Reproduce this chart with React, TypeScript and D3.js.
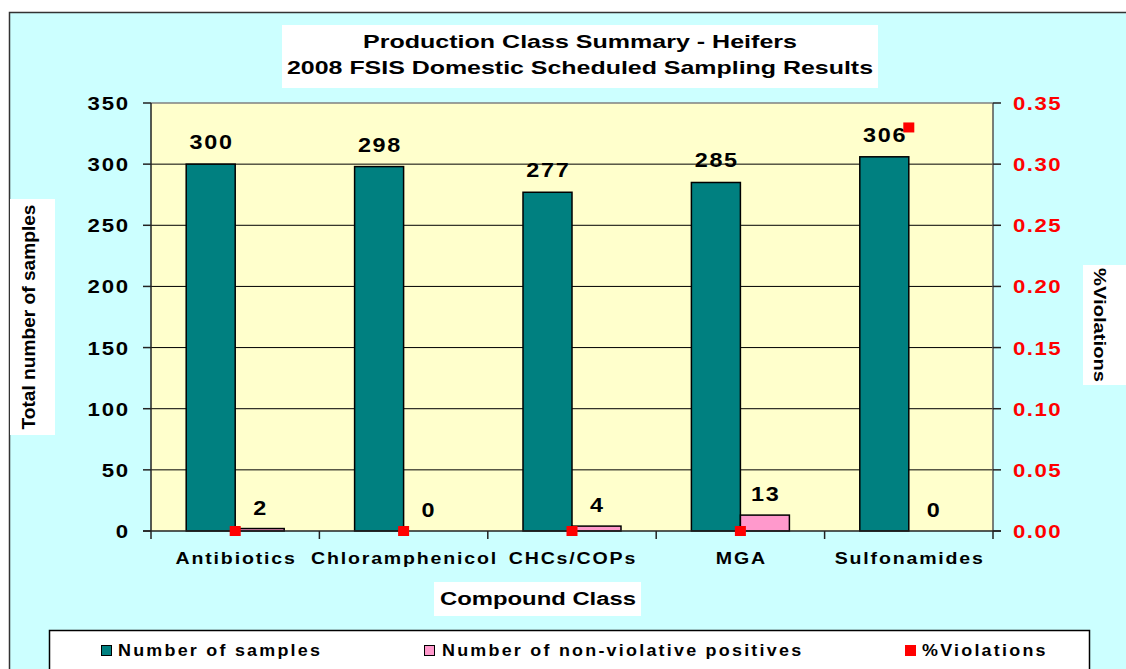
import * as d3 from "d3";

const categories = ["Antibiotics", "Chloramphenicol", "CHCs/COPs", "MGA", "Sulfonamides"];
const samples = [300, 298, 277, 285, 306];
const positives = [2, 0, 4, 13, 0];
const violations = [0, 0, 0, 0, 0.33];
const leftTicks = [0, 50, 100, 150, 200, 250, 300, 350];
const rightTicks = [0, 0.05, 0.1, 0.15, 0.2, 0.25, 0.3, 0.35];
const seriesNames = ["Number of samples", "Number of non-violative positives", "%Violations"];

const FONT = "'Liberation Sans', Arial, sans-serif";
const TEAL = "#008080";
const PINK = "#FF99CC";
const RED = "#FF0000";

function T({ x, y, size = 18, anchor = "middle", fill = "#000", ls = 0, sx = 1, len, rotate = 0, children }: any) {
  // letter-spacing adds a trailing gap, pull it back for centred text
  const dx = len ? 0 : anchor === "middle" ? (ls * sx) / 2 : anchor === "end" ? ls * sx : 0;
  return (
    <text
      transform={`translate(${x + dx},${y}) rotate(${rotate}) scale(${sx},1)`}
      textAnchor={anchor}
      fontSize={size}
      fontWeight="bold"
      fontFamily={FONT}
      fill={fill}
      letterSpacing={len ? undefined : ls}
      textLength={len}
      lengthAdjust={len ? "spacingAndGlyphs" : undefined}
    >
      {children}
    </text>
  );
}

export default function App() {
  const width = 1126;
  const height = 669;
  const left = 151, right = 993, top = 103, bottom = 531;

  const x = d3.scaleBand().domain(categories).range([left, right]).padding(0);
  const bw = x.bandwidth();
  const x1 = d3.scaleBand().domain(["samples", "positives"]).range([bw / 2 - 49, bw / 2 + 49]);
  const y = d3.scaleLinear().domain([0, 350]).range([bottom, top]);
  const y2 = d3.scaleLinear().domain([0, 0.35]).range([bottom, top]);
  const fmt = d3.format(".2f");
  const boundaries = d3.range(categories.length + 1).map((i) => left + i * bw);

  return (
    <svg width={width} height={height} style={{ position: "absolute", left: 0, top: 0, background: "#fff" }}>
      <rect x={9.5} y={12.5} width={1130} height={670} fill="#CCFFFF" stroke="#333" strokeWidth={1.5} />

      {/* title */}
      <rect x={282} y={25} width={596} height={63} fill="#fff" />
      <T x={580} y={48} size={19} len={434}>Production Class Summary - Heifers</T>
      <T x={580} y={74} size={19} len={586}>2008 FSIS Domestic Scheduled Sampling Results</T>

      {/* plot area */}
      <rect x={left} y={top} width={right - left} height={bottom - top} fill="#FFFFCC" />
      {leftTicks.slice(1, -1).map((t) => (
        <line key={t} x1={left} x2={right} y1={y(t)} y2={y(t)} stroke="#000" strokeWidth={1} />
      ))}
      <line x1={left} x2={right} y1={top} y2={top} stroke="#808080" strokeWidth={1.5} />
      <line x1={right} x2={right} y1={top} y2={bottom} stroke="#555" strokeWidth={1.5} />

      {/* bars */}
      {categories.map((c, i) => {
        const bx = x(c)!;
        const sTop = y(samples[i]);
        const pTop = y(positives[i]);
        const sx = bx + x1("samples")!;
        const px = bx + x1("positives")!;
        return (
          <g key={c}>
            <rect x={sx} y={sTop} width={x1.bandwidth()} height={bottom - sTop} fill={TEAL} stroke="#000" strokeWidth={1.5} />
            {positives[i] > 0 && (
              <rect x={px} y={pTop} width={x1.bandwidth()} height={bottom - pTop} fill={PINK} stroke="#000" strokeWidth={1.5} />
            )}
            <T x={sx + x1.bandwidth() / 2} y={sTop - 15} size={19.5} sx={1.2} ls={1.4}>{samples[i]}</T>
            <T x={px + x1.bandwidth() / 2} y={pTop - 14} size={19.5} sx={1.2} ls={1.4}>{positives[i]}</T>
          </g>
        );
      })}

      {/* left axis */}
      <line x1={left} x2={left} y1={top} y2={bottom} stroke="#222" strokeWidth={1.5} />
      {leftTicks.map((t) => (
        <g key={t}>
          <line x1={left - 8} x2={left} y1={y(t)} y2={y(t)} stroke="#222" strokeWidth={1.5} />
          <T x={128} y={y(t) + 7} size={18.5} sx={1.2} ls={1.4} anchor="end">{t}</T>
        </g>
      ))}

      {/* right axis */}
      {rightTicks.map((t) => (
        <g key={t}>
          <line x1={right} x2={right + 8} y1={y2(t)} y2={y2(t)} stroke="#222" strokeWidth={1.5} />
          <T x={1013} y={y2(t) + 7} size={18.5} sx={1.2} ls={1.2} anchor="start" fill={RED}>{fmt(t)}</T>
        </g>
      ))}

      {/* x axis */}
      <line x1={left - 8} x2={right + 8} y1={bottom} y2={bottom} stroke="#222" strokeWidth={1.5} />
      {boundaries.map((b, i) => (
        <line key={i} x1={b} x2={b} y1={bottom} y2={bottom + 8} stroke="#222" strokeWidth={1.5} />
      ))}
      {categories.map((c) => (
        <T key={c} x={x(c)! + bw / 2} y={564} size={17} sx={1.15} ls={1.6}>{c}</T>
      ))}

      {/* %Violations markers */}
      {categories.map((c, i) => (
        <rect key={c} x={x(c)! + bw / 2 - 5.5} y={y2(violations[i]) - 5} width={11} height={10} fill={RED} />
      ))}

      {/* axis titles */}
      <rect x={10} y={199} width={45} height={236} fill="#fff" />
      <T x={35} y={317} size={18} len={225} rotate={-90}>Total number of samples</T>
      <rect x={1083} y={265} width={50} height={120} fill="#fff" />
      <T x={1094} y={325} size={17} len={114} rotate={90}>%Violations</T>
      <rect x={434} y={582} width={207} height={34} fill="#fff" />
      <T x={538} y={605} size={18} len={196}>Compound Class</T>

      {/* legend */}
      <rect x={49.5} y={630.5} width={1040} height={60} fill="#fff" stroke="#000" strokeWidth={1.5} />
      <rect x={101.5} y={645.5} width={10} height={10} fill={TEAL} stroke="#000" strokeWidth={1} />
      <T x={118} y={656} size={16} sx={1.12} ls={2} anchor="start">{seriesNames[0]}</T>
      <rect x={424.5} y={645.5} width={10} height={10} fill={PINK} stroke="#000" strokeWidth={1} />
      <T x={442} y={656} size={16} sx={1.12} ls={2} anchor="start">{seriesNames[1]}</T>
      <rect x={905} y={645} width={11} height={11} fill={RED} />
      <T x={922} y={656} size={16} sx={1.12} ls={2} anchor="start">{seriesNames[2]}</T>
    </svg>
  );
}
